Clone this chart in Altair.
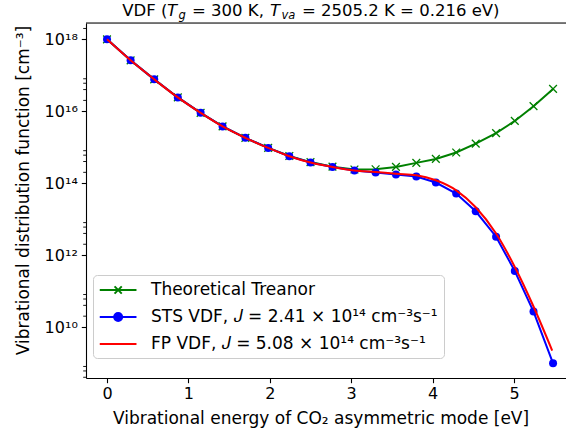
import altair as alt
import pandas as pd

# ---------------- data ----------------
energy = [0.00, 0.29, 0.58, 0.87, 1.15, 1.42, 1.70, 1.98, 2.24, 2.50, 2.77,
          3.04, 3.30, 3.55, 3.80, 4.04, 4.29, 4.53, 4.78, 5.01, 5.24, 5.48]
sts_vdf = [1.00e18, 2.60e17, 7.70e16, 2.42e16, 9.02e15, 3.78e15, 1.82e15,
           9.55e14, 5.61e14, 3.75e14, 2.82e14, 2.24e14, 1.97e14, 1.74e14,
           1.53e14, 1.04e14, 5.13e13, 1.65e13, 3.24e12, 3.59e11, 2.69e10, 9.77e8]
treanor_vdf = [1.00e18, 2.60e17, 7.70e16, 2.42e16, 9.02e15, 3.78e15, 1.82e15,
               9.55e14, 5.70e14, 3.85e14, 2.88e14, 2.40e14, 2.44e14, 2.83e14,
               3.66e14, 4.72e14, 7.11e14, 1.26e15, 2.45e15, 5.37e15, 1.38e16, 4.17e16]
fp_energy = [0.00, 0.29, 0.58, 0.87, 1.15, 1.42, 1.70, 1.98, 2.24, 2.50, 2.77,
             3.04, 3.30, 3.55, 3.80, 4.04, 4.29, 4.53, 4.78, 5.01, 5.24, 5.47]
fp_vdf = [1.00e18, 2.60e17, 7.70e16, 2.42e16, 9.02e15, 3.78e15, 1.82e15,
          9.55e14, 5.61e14, 3.75e14, 2.82e14, 2.26e14, 2.04e14, 1.82e14,
          1.66e14, 1.20e14, 6.31e13, 2.14e13, 3.98e12, 4.68e11, 3.72e10, 2.19e9]

series_names = ["Theoretical Treanor",
                "STS VDF, 𝐽 = 2.41 × 10¹⁴ cm⁻³s⁻¹",
                "FP VDF, 𝐽 = 5.08 × 10¹⁴ cm⁻³s⁻¹"]
series_colors = ["#008000", "#0000ff", "#ff0000"]

x_ticks = [0, 1, 2, 3, 4, 5]
y_major = [1e10, 1e12, 1e14, 1e16, 1e18]
y_minor = [4e8, 6e8, 8e8, 2e10, 4e10, 6e10, 8e10, 2e12, 4e12, 6e12, 8e12,
           2e14, 4e14, 6e14, 8e14, 2e16, 4e16, 6e16, 8e16, 2e18]

title_pieces = ["VDF (", "T", "g", "= 300 K,", "T", "va", "= 2505.2 K = 0.216 eV)"]

# ---------------- layout ----------------
W, H = 480, 355
FONT = "DejaVu Sans"
FS = 17

xs = alt.Scale(domain=[-0.258, 5.639], nice=False, zero=False)
ys = alt.Scale(type="log", domain=[3.82e8, 2.84e18], nice=False)

common_axis = dict(grid=False, labelFont=FONT, titleFont=FONT, titleFontSize=FS,
                   titleFontWeight="normal", labelColor="black", titleColor="black",
                   domainColor="black", tickColor="black", domainWidth=1.1, tickWidth=1.1,
                   labelFontSize=16, tickSize=4.7)
x_axis = alt.Axis(values=x_ticks, format="d",
                  title="Vibrational energy of CO₂ asymmetric mode [eV]",
                  titleX=234.5, titleY=45, titleAlign="center", titleBaseline="alphabetic",
                  labelPadding=3, **common_axis)
label_expr = ("datum.value >= 9e17 ? '10¹⁸' : datum.value >= 9e15 ? '10¹⁶' : "
              "datum.value >= 9e13 ? '10¹⁴' : datum.value >= 9e11 ? '10¹²' : '10¹⁰'")
y_axis = alt.Axis(values=y_major, labelExpr=label_expr,
                  title="Vibrational distribution function [cm⁻³]",
                  titleX=-57.5, titleY=167, titleAngle=270, titleAlign="center",
                  titleBaseline="alphabetic", labelPadding=4, **common_axis)

X = alt.X("E:Q", scale=xs, axis=x_axis)
Y = alt.Y("f:Q", scale=ys, axis=y_axis)

df_tr = pd.DataFrame({"E": energy, "f": treanor_vdf})
df_sts = pd.DataFrame({"E": energy, "f": sts_vdf})
df_fp = pd.DataFrame({"E": fp_energy, "f": fp_vdf})
df_minor = pd.DataFrame({"f": y_minor})
df_leg = pd.DataFrame({"E": [0.0] * 3, "f": [1e18] * 3, "series": series_names})

cross_path = "M-1,-1L1,1M-1,1L1,-1"

tr_line = alt.Chart(df_tr).mark_line(color=series_colors[0], strokeWidth=2).encode(x=X, y=Y)
tr_pts = alt.Chart(df_tr).mark_point(shape=cross_path, size=60, filled=False, opacity=1,
                                     color=series_colors[0], strokeWidth=1.3).encode(x=X, y=Y)
sts_line = alt.Chart(df_sts).mark_line(color=series_colors[1], strokeWidth=2).encode(x=X, y=Y)
sts_pts = alt.Chart(df_sts).mark_circle(size=64, opacity=1, color=series_colors[1]).encode(x=X, y=Y)
fp_line = alt.Chart(df_fp).mark_line(color=series_colors[2], strokeWidth=2,
                                     interpolate="monotone").encode(x=X, y=Y)

minor = alt.Chart(df_minor).mark_rule(color="black", strokeWidth=0.9).encode(
    y=alt.Y("f:Q", scale=ys, axis=y_axis), x=alt.value(-2.8), x2=alt.value(0))

top_border = alt.Chart(pd.DataFrame({"a": [0]})).mark_rule(color="black", strokeWidth=1.1).encode(
    x=alt.value(0), x2=alt.value(W), y=alt.value(0))

# legend (built from an empty layer with explicit scale domains)
leg_paths = [
    "M-1.03,0H3.56M0.82,-0.45L1.72,0.45M0.82,0.45L1.72,-0.45",
    "M-1.03,0H3.56M1.77,0A0.5,0.5,0,1,1,0.77,0A0.5,0.5,0,1,1,1.77,0Z",
    "M-1.03,0H3.56",
]
leg = alt.Legend(title=None, orient="none", legendX=7, legendY=252, direction="vertical",
                 symbolSize=256, symbolStrokeWidth=2, symbolOpacity=1,
                 labelFont=FONT, labelFontSize=FS, labelLimit=600, labelOffset=34,
                 rowPadding=10, padding=6, fillColor="rgba(255,255,255,0.8)",
                 strokeColor="#cccccc", cornerRadius=4)
cscale = alt.Scale(domain=series_names, range=series_colors)
legend_layer = alt.Chart(df_leg).transform_filter("false").mark_point(
    filled=True, opacity=1, strokeWidth=2).encode(
    x=X, y=Y,
    fill=alt.Fill("series:N", scale=cscale, legend=leg),
    stroke=alt.Stroke("series:N", scale=cscale, legend=leg),
    shape=alt.Shape("series:N", scale=alt.Scale(domain=series_names, range=leg_paths), legend=leg),
)

# title pieces (with sub-scripts)
title_x = [122.3, 166.9, 178.4, 192.0, 270.0, 281.5, 302.0]
title_y = [16, 16, 19, 16, 16, 19, 16]
title_size = [16.5, 16.5, 11.5, 16.5, 16.5, 11.5, 16.5]
title_style = ["normal", "italic", "italic", "normal", "italic", "italic", "normal"]
title_layers = []
for t, px, py, fs, st in zip(title_pieces, title_x, title_y, title_size, title_style):
    title_layers.append(
        alt.Chart(pd.DataFrame({"t": [t]})).mark_text(
            align="left", baseline="alphabetic", font=FONT, fontSize=fs, fontStyle=st,
            color="black").encode(text="t:N", x=alt.value(px - 86), y=alt.value(py - 23)))

chart = alt.layer(tr_line, tr_pts, sts_line, sts_pts, fp_line, minor, top_border,
                  legend_layer, *title_layers).properties(
    width=W, height=H,
    autosize=alt.AutoSizeParams(type="none"),
    padding={"left": 86, "top": 23, "right": 0, "bottom": 55},
).configure_view(stroke=None).configure(background="white")

chart.save("out.html", embed_options={"renderer": "svg", "actions": False})
